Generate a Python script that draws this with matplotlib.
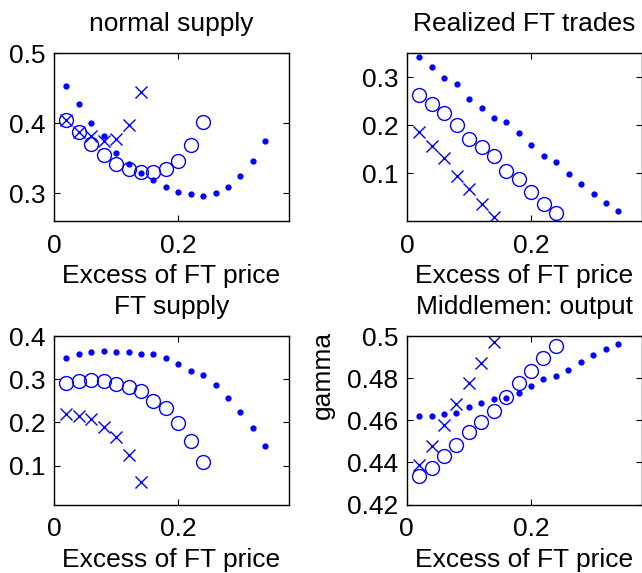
import numpy as np
import matplotlib
matplotlib.use("Agg")
import matplotlib.pyplot as plt

plt.rcParams['font.family'] = ['Liberation Sans', 'DejaVu Sans']
plt.rcParams['font.size'] = 19

# excess of FT price grid
x_dot = np.arange(1, 18) * 0.02
x_circ = np.arange(1, 13) * 0.02
x_cross = np.arange(1, 8) * 0.02

# normal supply
ns_dot = [0.453, 0.427, 0.400, 0.381, 0.358, 0.342, 0.328, 0.319, 0.309,
          0.301, 0.298, 0.296, 0.300, 0.309, 0.324, 0.346, 0.374]
ns_circ = [0.405, 0.387, 0.370, 0.354, 0.342, 0.334, 0.330, 0.330, 0.334,
           0.346, 0.369, 0.402]
ns_cross = [0.405, 0.388, 0.381, 0.375, 0.378, 0.397, 0.444]

# realized FT trades
rt_dot = [0.342, 0.322, 0.299, 0.285, 0.255, 0.235, 0.215, 0.206, 0.183,
          0.159, 0.135, 0.124, 0.099, 0.077, 0.056, 0.037, 0.021]
rt_circ = [0.263, 0.244, 0.225, 0.201, 0.171, 0.155, 0.135, 0.105, 0.088,
           0.060, 0.035, 0.017]
rt_cross = [0.186, 0.156, 0.131, 0.094, 0.067, 0.035, 0.008]

# FT supply
fs_dot = [0.349, 0.358, 0.362, 0.366, 0.364, 0.362, 0.358, 0.359, 0.349,
          0.336, 0.318, 0.311, 0.287, 0.257, 0.224, 0.187, 0.145]
fs_circ = [0.291, 0.295, 0.298, 0.296, 0.290, 0.282, 0.272, 0.250, 0.233,
           0.198, 0.157, 0.108]
fs_cross = [0.220, 0.216, 0.208, 0.190, 0.166, 0.125, 0.061]

# middlemen output
mo_dot = [0.4619, 0.4619, 0.4631, 0.4635, 0.4665, 0.468, 0.470, 0.4704,
          0.4731, 0.4764, 0.4795, 0.4808, 0.4841, 0.4879, 0.491, 0.4939, 0.4964]
mo_circ = [0.4334, 0.4375, 0.443, 0.4485, 0.4545, 0.4594, 0.4646, 0.4710,
           0.4775, 0.4833, 0.4898, 0.4954]
mo_cross = [0.4387, 0.448, 0.4576, 0.4676, 0.4775, 0.4874, 0.497]

panels = [
    ("normal supply", ns_dot, ns_circ, ns_cross, (0.26, 0.5),
     [0.3, 0.4, 0.5], ["0.3", "0.4", "0.5"]),
    ("Realized FT trades", rt_dot, rt_circ, rt_cross, (0.0, 0.35),
     [0.1, 0.2, 0.3], ["0.1", "0.2", "0.3"]),
    ("FT supply", fs_dot, fs_circ, fs_cross, (0.01, 0.4),
     [0.1, 0.2, 0.3, 0.4], ["0.1", "0.2", "0.3", "0.4"]),
    ("Middlemen: output", mo_dot, mo_circ, mo_cross, (0.42, 0.5),
     [0.42, 0.44, 0.46, 0.48, 0.5], ["0.42", "0.44", "0.46", "0.48", "0.5"]),
]
positions = [
    [0.0841, 0.6143, 0.366, 0.2927],
    [0.634, 0.6143, 0.366, 0.2927],
    [0.0841, 0.1195, 0.366, 0.294],
    [0.6335, 0.1195, 0.366, 0.294],
]

fig = plt.figure(figsize=(6.42, 5.73), dpi=100)
blue = (0, 0, 1)
for (title, yd, yc, yx, ylim, yticks, ylabels), pos in zip(panels, positions):
    ax = fig.add_axes(pos)
    ax.plot(x_dot, yd, '.', color=blue, markersize=7)
    ax.plot(x_circ, yc, 'o', mfc='none', mec=blue, markersize=10, mew=1.0)
    ax.plot(x_cross, yx, 'x', color=blue, markersize=8, mew=1.0)
    ax.set_xlim(0, 0.378)
    ax.set_ylim(*ylim)
    ax.set_xticks([0, 0.2])
    ax.set_xticklabels(["0", "0.2"])
    ax.set_yticks(yticks)
    ax.set_yticklabels(ylabels)
    ax.tick_params(direction='in', top=True, right=True, length=4, width=0.8,
                   labelsize=19)
    ax.tick_params(axis='x', pad=9)
    ax.tick_params(axis='y', pad=6)
    for s in ax.spines.values():
        s.set_linewidth(1.0)
    ax.set_title(title, fontsize=19, pad=16)
    ax.set_xlabel("Excess of FT price", fontsize=19, labelpad=5)
    if title.startswith("Middlemen"):
        ax.set_ylabel("gamma", fontsize=19)
        ax.yaxis.set_label_coords(-0.305, 0.77)

fig.savefig("out.png", dpi=100)
